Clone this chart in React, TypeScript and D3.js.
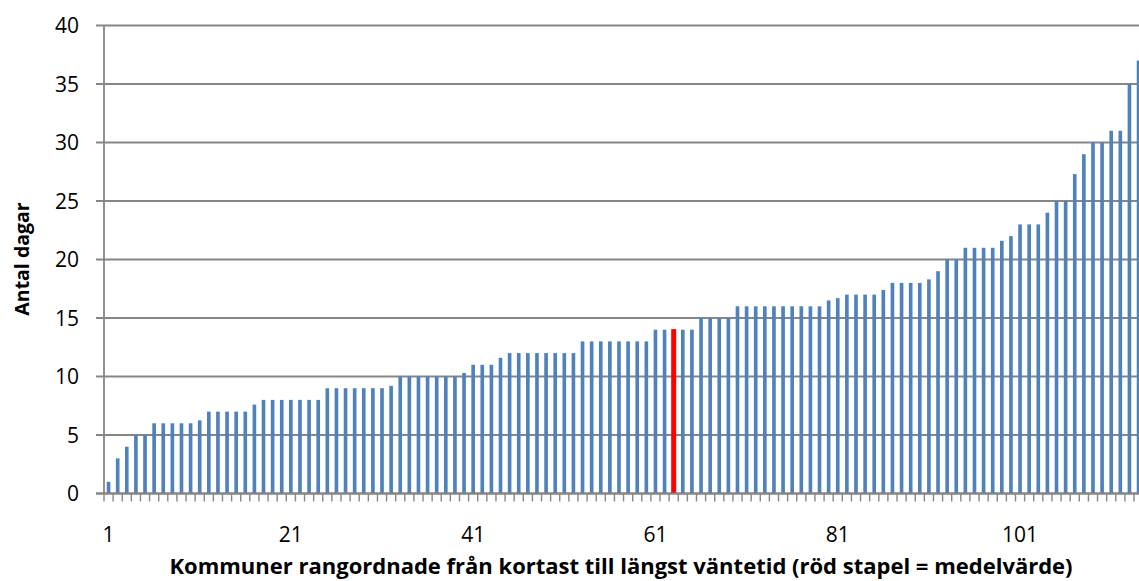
import React from 'react';
import * as d3 from 'd3';

// waiting time (days) per municipality, sorted ascending
const values = [
  1, 3, 4, 5, 5, 6, 6, 6, 6, 6,
  6.25, 7, 7, 7, 7, 7, 7.6, 8, 8, 8,
  8, 8, 8, 8, 9, 9, 9, 9, 9, 9,
  9, 9.2, 10, 10, 10, 10, 10, 10, 10, 10.3,
  11, 11, 11, 11.6, 12, 12, 12, 12, 12, 12,
  12, 12, 13, 13, 13, 13, 13, 13, 13, 13,
  14, 14, 14.05, 14, 14, 15, 15, 15, 15, 16,
  16, 16, 16, 16, 16, 16, 16, 16, 16, 16.5,
  16.7, 17, 17, 17, 17, 17.4, 18, 18, 18, 18,
  18.3, 19, 20, 20, 21, 21, 21, 21, 21.6, 22,
  23, 23, 23, 24, 25, 25, 27.3, 29, 30, 30,
  31, 31, 35, 37,
];
const categories = values.map((_, i) => i + 1);
const meanCategory = 63;
const xTickLabels = [1, 21, 41, 61, 81, 101];
const yTicks = [0, 5, 10, 15, 20, 25, 30, 35, 40];

const width = 1139;
const height = 581;
const left = 104;
const step = 9.115;
const top = 25.5;
const bottom = 493.5;
const font = "'Open Sans', sans-serif";
const gridColor = '#868686';

const App = () => {
  const x = d3.scaleBand<number>()
    .domain(categories)
    .range([left, left + step * categories.length])
    .paddingInner(0.6)
    .paddingOuter(0.3);

  const y = d3.scaleLinear().domain([0, 40]).range([bottom, top]);

  const slot = x.step();
  const boundaries = d3.range(categories.length + 1).map(i => left + i * slot);

  return (
    <svg
      width={width}
      height={height}
      style={{ position: 'absolute', left: 0, top: 0, background: '#fff' }}
    >
      {/* gridlines + y ticks */}
      {yTicks.map(t => (
        <line key={'g' + t} x1={96} x2={width} y1={y(t)} y2={y(t)} stroke={gridColor} strokeWidth={1.8} />
      ))}
      {yTicks.map(t => (
        <text key={'yl' + t} x={79} y={y(t)} dy="0.36em" textAnchor="end"
          fontFamily={font} fontSize={21} fill="#000">{t}</text>
      ))}

      {/* bars */}
      {categories.map((c, i) => {
        const isMean = c === meanCategory;
        const bw = isMean ? 5 : x.bandwidth();
        const cx = (x(c) as number) + x.bandwidth() / 2;
        return (
          <rect key={c} x={cx - bw / 2} y={y(values[i])} width={bw}
            height={bottom - y(values[i])} fill={isMean ? '#ff0000' : '#4f81bd'} />
        );
      })}

      {/* axes */}
      <line x1={left} x2={left} y1={top} y2={bottom} stroke={gridColor} strokeWidth={1.8} />
      <line x1={96} x2={width} y1={bottom} y2={bottom} stroke={gridColor} strokeWidth={1.8} />
      {boundaries.map((bx, i) => (
        <line key={'t' + i} x1={bx} x2={bx} y1={bottom} y2={bottom + 8} stroke={gridColor} strokeWidth={1.4} />
      ))}
      {xTickLabels.map(c => (
        <text key={'xl' + c} x={(x(c) as number) + x.bandwidth() / 2} y={542} textAnchor="middle"
          fontFamily={font} fontSize={21} fill="#000">{c}</text>
      ))}

      {/* titles */}
      <text x={621} y={574} textAnchor="middle" fontFamily={font} fontSize={22}
        fontWeight="bold" fill="#000">
        Kommuner rangordnade från kortast till längst väntetid (röd stapel = medelvärde)
      </text>
      <text transform="translate(29,259) rotate(-90)" textAnchor="middle" fontFamily={font}
        fontSize={19.5} fontWeight="bold" fill="#000">Antal dagar</text>
    </svg>
  );
};

export default App;
